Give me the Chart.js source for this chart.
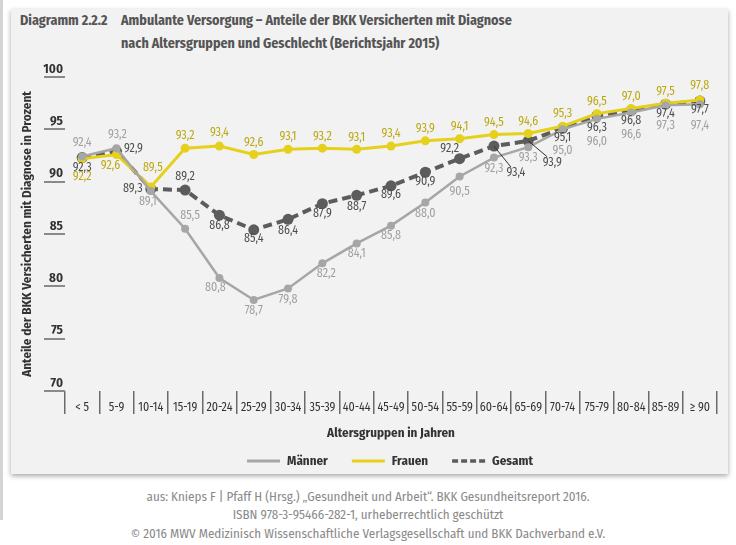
<!DOCTYPE html>
<html lang="de">
<head>
<meta charset="utf-8">
<script src="https://cdn.jsdelivr.net/npm/chart.js@4.4.1/dist/chart.umd.min.js"></script>
<style>
  html,body{margin:0;padding:0;background:#fff;width:736px;height:545px;overflow:hidden;position:relative;}
  #strip{position:absolute;left:0;top:0;width:3px;height:520px;background:#d4d4d4;}
  #panel{position:absolute;left:11px;top:9px;width:717px;height:465px;background:#f2f2f2;box-shadow:0 2px 5px rgba(0,0,0,0.35);}
  .t{position:absolute;font-weight:bold;font-size:14px;color:#555;white-space:nowrap;line-height:16px;}
  .f{position:absolute;left:0;width:736px;text-align:center;font-size:13px;color:#8a8a8a;white-space:nowrap;line-height:16px;}
  #wrap{position:absolute;left:0;top:0;width:736px;height:480px;}
</style>
</head>
<body>
<div id="strip"></div>
<div id="panel"></div>
<div class="t" id="t0" style="left:20px;top:13px;">Diagramm 2.2.2</div>
<div class="t" id="t1" style="left:121px;top:13px;">Ambulante Versorgung – Anteile der BKK Versicherten mit Diagnose</div>
<div class="t" id="t2" style="left:121px;top:36px;">nach Altersgruppen und Geschlecht (Berichtsjahr 2015)</div>
<div id="wrap"><canvas id="c" width="736" height="480"></canvas></div>
<div class="f" style="top:489px;">aus: Knieps F | Pfaff H (Hrsg.) „Gesundheit und Arbeit“. BKK Gesundheitsreport 2016.</div>
<div class="f" style="top:507px;">ISBN 978-3-95466-282-1, urheberrechtlich geschützt</div>
<div class="f" style="top:526px;">© 2016 MWV Medizinisch Wissenschaftliche Verlagsgesellschaft und BKK Dachverband e.V.</div>
<script>
// ---- data ----
const categories = ['< 5','5-9','10-14','15-19','20-24','25-29','30-34','35-39','40-44','45-49','50-54','55-59','60-64','65-69','70-74','75-79','80-84','85-89','≥ 90'];
const maenner = [92.4,93.2,89.1,85.5,80.8,78.7,79.8,82.2,84.1,85.8,88.0,90.5,92.3,93.3,95.0,96.0,96.6,97.3,97.4];
const frauen  = [92.2,92.6,89.5,93.2,93.4,92.6,93.1,93.2,93.1,93.4,93.9,94.1,94.5,94.6,95.3,96.5,97.0,97.5,97.8];
const gesamt  = [92.3,92.9,89.3,89.2,86.8,85.4,86.4,87.9,88.7,89.6,90.9,92.2,93.4,93.9,95.1,96.3,96.8,97.4,97.7];
const seriesNames = ['Männer','Frauen','Gesamt'];
const yTicks = [70,75,80,85,90,95,100];

// ---- label placement (styling only: offsets in px from the point) ----
const menDx = [0,1,-3,5,-4,0,0,4,0,0,0,0,0,0,0,0,0,0,0];
const menDy = [-14,-14,11,-13,10,11,11,10,10,10,11,15,11,11,21,23,22,20,21];
const womDx = [0,-6,2,0,0,0,0,0,0,0,0,0,0,0,0,0,0,0,0];
const womDy = [18,11,-19,-13,-13,-12,-13,-12,-12,-12,-12,-12,-12,-12,-13,-12,-12,-12,-14];
const gesDx = [0,17,-18,0,0,0,0,0,0,0,0,-10,22,24,0,0,0,0,0];
const gesDy = [10,-3,0,-13,10,9,11,10,11,9,9,-10,27,22,9,12,10,9,9];
const gesLeader = [12,13];

// ---- font detection ----
function hasFont(f){
  const c=document.createElement('canvas').getContext('2d');
  const s='Anteile der BKK Versicherten 0123456789';
  let diff=0;
  for(const g of ['monospace','serif']){
    c.font='16px '+g; const w0=c.measureText(s).width;
    c.font='16px "'+f+'", '+g; const w1=c.measureText(s).width;
    if(Math.abs(w0-w1)>0.5) diff++;
  }
  return diff===2;
}
const cands=['Fira Sans Condensed','Roboto Condensed','Liberation Sans Narrow','DejaVu Sans Condensed','Open Sans Condensed','Arial Narrow','Noto Sans','Roboto'];
let FAM='sans-serif';
for(const f of cands){ if(hasFont(f)){ FAM='"'+f+'", sans-serif'; break; } }
document.querySelectorAll('.t,.f').forEach(e=>e.style.fontFamily=FAM);

const COL_M='#a6a6a6', COL_F='#e5d01c', COL_G='#5c5c5c';
const LBL_M='#a0a0a0', LBL_F='#bba912', LBL_G='#4f4f4f';

const labelPlugin={
  id:'valueLabels',
  afterDatasetsDraw(chart){
    const ctx=chart.ctx;
    const specs=[[0,menDx,menDy,LBL_M],[1,womDx,womDy,LBL_F],[2,gesDx,gesDy,LBL_G]];
    ctx.save();
    ctx.font='12px '+FAM;
    ctx.textAlign='center'; ctx.textBaseline='middle';
    for(const [di,dx,dy,col] of specs){
      const meta=chart.getDatasetMeta(di);
      const data=chart.data.datasets[di].data;
      meta.data.forEach((pt,i)=>{
        const x=pt.x+dx[i], y=pt.y+dy[i];
        if(di===2 && gesLeader.includes(i)){
          ctx.strokeStyle='#333'; ctx.lineWidth=1;
          ctx.beginPath(); ctx.moveTo(pt.x,pt.y); ctx.lineTo(x-5,y-6); ctx.stroke();
        }
        ctx.fillStyle=col;
        ctx.fillText(data[i].toFixed(1).replace('.',','),x,y);
      });
    }
    ctx.restore();
  }
};

const legendPlugin={
  id:'customLegend',
  afterDraw(chart){
    const ctx=chart.ctx;
    ctx.save();
    ctx.font='bold 13px '+FAM;
    ctx.textBaseline='middle'; ctx.textAlign='left';
    const lineW=33, gapT=7, gapI=24, y=461;
    const items=chart.data.datasets.map(d=>({text:d.label,color:d.borderColor,dash:d.borderDash||[],w:ctx.measureText(d.label).width}));
    let total=0; items.forEach((it,i)=>{ total+=lineW+gapT+it.w+(i<items.length-1?gapI:0); });
    let x=390-total/2;
    items.forEach(it=>{
      ctx.strokeStyle=it.color; ctx.lineWidth=it.dash.length?3.5:3;
      ctx.setLineDash(it.dash.length?[6,3]:[]);
      ctx.beginPath(); ctx.moveTo(x,y); ctx.lineTo(x+lineW,y); ctx.stroke();
      ctx.setLineDash([]);
      x+=lineW+gapT;
      ctx.fillStyle='#333'; ctx.fillText(it.text,x,y);
      x+=it.w+gapI;
    });
    ctx.restore();
  }
};

Chart.defaults.font.family=FAM;
new Chart(document.getElementById('c'),{
  type:'line',
  data:{
    labels:categories,
    datasets:[
      {label:seriesNames[0],data:maenner,borderColor:COL_M,backgroundColor:COL_M,borderWidth:2.5,pointRadius:4,pointBackgroundColor:COL_M,pointBorderWidth:0,tension:0},
      {label:seriesNames[1],data:frauen,borderColor:COL_F,backgroundColor:COL_F,borderWidth:3,pointRadius:4.5,pointBackgroundColor:COL_F,pointBorderWidth:0,tension:0},
      {label:seriesNames[2],data:gesamt,borderColor:COL_G,backgroundColor:COL_G,borderWidth:4,borderDash:[9,5],pointRadius:5.5,pointBackgroundColor:COL_G,pointBorderWidth:0,tension:0}
    ]
  },
  options:{
    responsive:false,animation:false,devicePixelRatio:1,
    layout:{padding:{left:14,right:19,top:77,bottom:39}},
    plugins:{legend:{display:false},tooltip:{enabled:false}},
    scales:{
      x:{
        offset:true,
        border:{display:false},
        grid:{offset:true,drawOnChartArea:false,drawTicks:true,tickLength:23,color:'#6a6a6a',lineWidth:1.5},
        ticks:{color:'#333',font:{size:12},padding:-14,maxRotation:0,autoSkip:false},
        title:{display:true,text:'Altersgruppen in Jahren',color:'#333',font:{size:13,weight:'bold'},padding:{top:0,bottom:0}},
        afterFit(s){s.height=50;}
      },
      y:{
        min:70,max:100,
        afterBuildTicks(s){s.ticks=yTicks.map(v=>({value:v}));},
        border:{display:false},
        grid:{drawOnChartArea:false,drawTicks:true,tickLength:21,color:'#8a8a8a',lineWidth:2},
        ticks:{color:'#333',font:{size:13,weight:'bold'},padding:-19,labelOffset:-8},
        title:{display:true,text:'Anteile der BKK Versicherten mit Diagnose in Prozent',color:'#333',font:{size:13,weight:'bold'},padding:{top:6,bottom:0}},
        afterFit(s){s.width=51;}
      }
    }
  },
  plugins:[labelPlugin,legendPlugin]
});
</script>
</body>
</html>
